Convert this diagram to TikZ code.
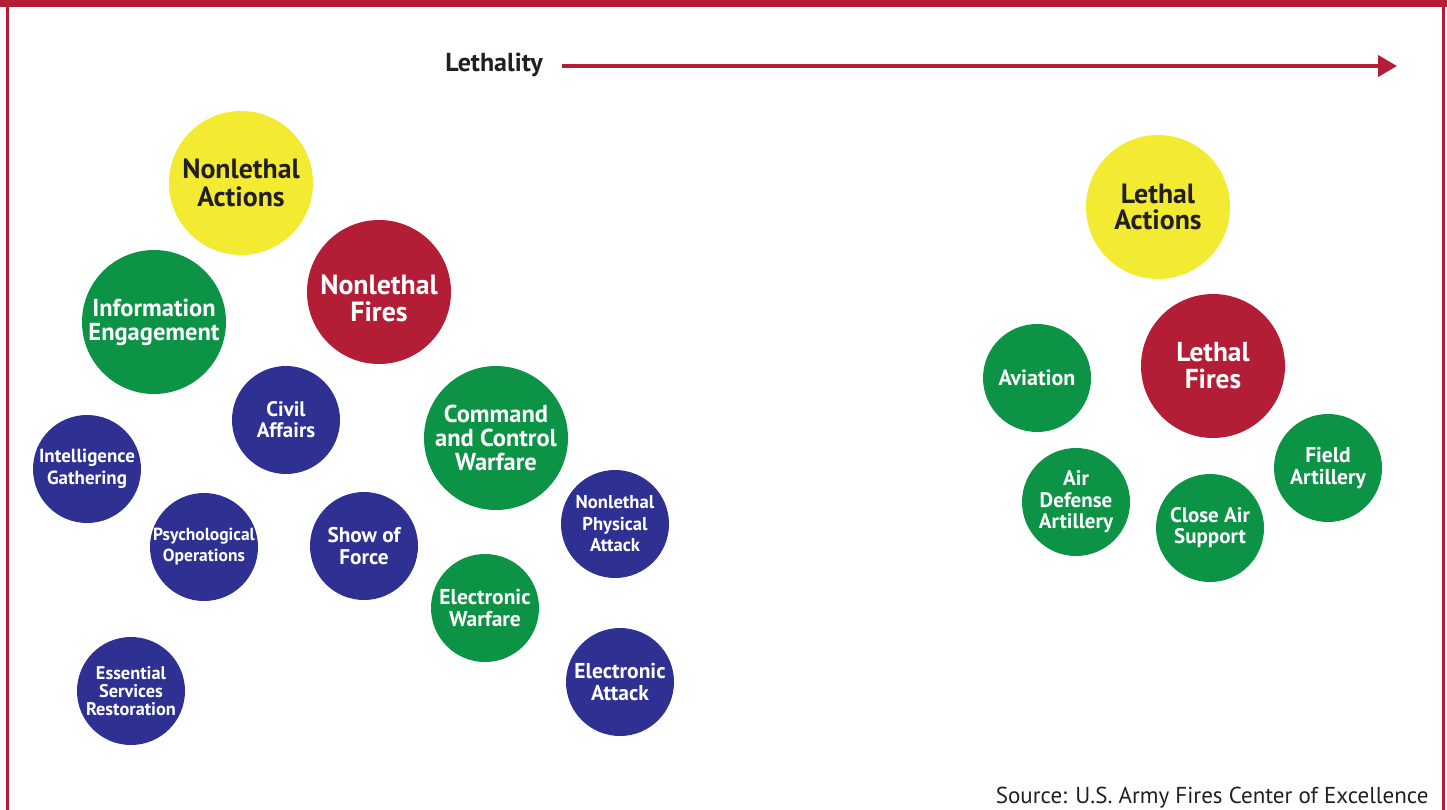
\documentclass[tikz,border=0pt]{standalone}
\usepackage{fontspec}
\setmainfont{PT Sans}
\usetikzlibrary{arrows.meta}
\definecolor{frred}{HTML}{B31E36}
\definecolor{fryel}{HTML}{F2EB31}
\definecolor{frgrn}{HTML}{0D9346}
\definecolor{frblu}{HTML}{2E3192}
\definecolor{frtxt}{HTML}{231F20}
\tikzset{
  bub/.style={circle, inner sep=0pt, align=center, font=\bfseries},
  big/.style={bub, minimum size=144pt},
  small/.style={bub, minimum size=108pt, text=white},
  yel/.style={big, fill=fryel, text=frtxt},
  redb/.style={big, fill=frred, text=white},
  grnb/.style={big, fill=frgrn, text=white},
  grns/.style={small, fill=frgrn},
  blus/.style={small, fill=frblu},
  fs/.style args={#1/#2}{font=\fontsize{#1}{#2}\selectfont\bfseries},
}
\begin{document}
\begin{tikzpicture}[x=1pt,y=-1pt]
\useasboundingbox (0,0) rectangle (1447,810);
% frame
\fill[frred] (0,0) rectangle (1447,7);
\fill[frred] (6,0) rectangle (8.5,810);
\fill[frred] (1442,0) rectangle (1444.5,810);
% arrow
\node[anchor=center, text=frtxt, fs=26/30] (leth) at (494,65) {Lethality};
\coordinate (aend) at (1397,66);
\draw[frred, line width=4pt, -{Triangle[length=19pt,width=21pt]}] (562,66) -- (aend);
% left group
\node[yel, fs=27.8/28] (na) at (241,183) {Nonlethal\\Actions};
\node[redb] (nf) at (379,292) {};
\node[text=white, align=center, fs=27.8/27] (nft) at ([yshift=-6pt]nf.center) {Nonlethal\\Fires};
\node[grnb, fs=24.5/24] (ie) at (154,322) {Information\\Engagement};
\node[blus, fs=21/21] (ca) at (286,420) {Civil\\Affairs};
\node[blus, fs=19/22] (ig) at (87,469) {Intelligence\\Gathering};
\node[grnb, fs=24.5/24] (c2) at (496,438) {Command\\and Control\\Warfare};
\node[blus, fs=17.5/21] (po) at (204,547) {Psychological\\Operations};
\node[blus, fs=21.3/22] (sf) at (364,546) {Show of\\Force};
\node[blus, fs=18.6/21.5] (npa) at (615,524) {Nonlethal\\Physical\\Attack};
\node[grns, fs=21.5/22] (ew) at (485,608) {Electronic\\Warfare};
\node[blus, fs=21.5/21] (ea) at (620,682) {Electronic\\Attack};
\node[blus, fs=18.3/18] (esr) at (131,691) {Essential\\Services\\Restoration};
% right group
\node[yel, fs=27.8/26] (la) at (1158,207) {Lethal\\Actions};
\node[redb, fs=27.4/27] (lf) at (1213,366) {Lethal\\Fires};
\node[grns, fs=22/22] (av) at (1037,378) {Aviation};
\node[grns, fs=21.5/22] (fa) at (1328,468) {Field\\Artillery};
\node[grns, fs=21/21.5] (ada) at (1076,502) {Air\\Defense\\Artillery};
\node[grns, fs=21/21] (cas) at (1210,528) {Close Air\\Support};
% source
\node[anchor=base east, text=frtxt, font=\fontsize{23}{26}\selectfont] (src) at (1432,803) {Source: U.S. Army Fires Center of Excellence};
\end{tikzpicture}
\end{document}
